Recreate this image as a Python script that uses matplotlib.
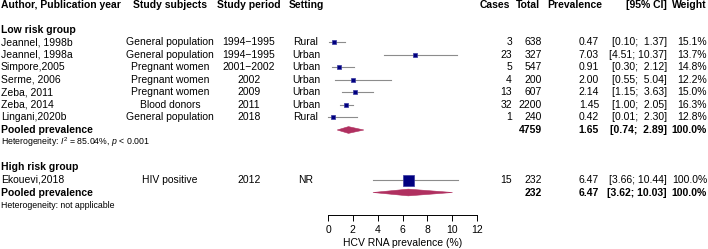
import matplotlib.pyplot as plt
from matplotlib.patches import Polygon
from matplotlib.transforms import blended_transform_factory
import numpy as np

plt.rcParams['font.family'] = ['Liberation Sans', 'DejaVu Sans']
plt.rcParams['mathtext.fontset'] = 'custom'
plt.rcParams['mathtext.rm'] = 'Liberation Sans'
plt.rcParams['mathtext.it'] = 'Liberation Sans:italic'

# low risk group studies
low_authors = ["Jeannel, 1998b", "Jeannel, 1998a", "Simpore,2005", "Serme, 2006",
               "Zeba, 2011", "Zeba, 2014", "Lingani,2020b"]
low_subjects = ["General population", "General population", "Pregnant women",
                "Pregnant women", "Pregnant women", "Blood donors", "General population"]
low_periods = ["1994\u22121995", "1994\u22121995", "2001\u22122002", "2002", "2009", "2011", "2018"]
low_settings = ["Rural", "Urban", "Urban", "Urban", "Urban", "Urban", "Rural"]
low_cases = [3, 23, 5, 4, 13, 32, 1]
low_totals = [638, 327, 547, 200, 607, 2200, 240]
low_prev = [0.47, 7.03, 0.91, 2.00, 2.14, 1.45, 0.42]
low_lo = [0.10, 4.51, 0.30, 0.55, 1.15, 1.00, 0.01]
low_hi = [1.37, 10.37, 2.12, 5.04, 3.63, 2.05, 2.30]
low_weights = [15.1, 13.7, 14.8, 12.2, 15.0, 16.3, 12.8]
low_pooled = (4759, 1.65, 0.74, 2.89)
low_het = "Heterogeneity: $I^2$ = 85.04%, $p$ < 0.001"

# high risk group
high_authors = ["Ekouevi,2018"]
high_subjects = ["HIV positive"]
high_periods = ["2012"]
high_settings = ["NR"]
high_cases = [15]
high_totals = [232]
high_prev = [6.47]
high_lo = [3.66]
high_hi = [10.44]
high_weights = [100.0]
high_pooled = (232, 6.47, 3.62, 10.03)
high_het = "Heterogeneity: not applicable"

xticks = [0, 2, 4, 6, 8, 10, 12]

W, H = 708, 249
fig = plt.figure(figsize=(W / 100, H / 100), dpi=100)
ax = fig.add_axes([328 / W, (H - 215) / H, 149 / W, 215 / H])
ax.set_xlim(0, 12)
ax.set_ylim(16.8, -0.4)
for s in ['top', 'left', 'right']:
    ax.spines[s].set_visible(False)
ax.spines['bottom'].set_linewidth(0.7)
ax.set_yticks([])
ax.set_xticks(xticks)
ax.tick_params(axis='x', length=4, width=0.7, labelsize=7.5, pad=3)
ax.set_xlabel('HCV RNA prevalence (%)', fontsize=7.5, labelpad=2.5)
ax.patch.set_alpha(0)

tr = blended_transform_factory(fig.transFigure, ax.transData)
fs = 7.5


def txt(xpx, y, s, ha='left', bold=False, size=fs):
    ax.text(xpx / W, y, s, transform=tr, ha=ha, va='center', fontsize=size,
            fontweight='bold' if bold else 'normal', clip_on=False)


def ci_str(lo, hi):
    s_lo = f"{lo:.2f}"
    s_hi = f"{hi:.2f}"
    pad = "  " if len(s_hi) < 5 else " "
    return f"[{s_lo};{pad}{s_hi}]"


# headers
txt(1, 0, "Author, Publication year", bold=True)
txt(170, 0, "Study subjects", ha='center', bold=True)
txt(249, 0, "Study period", ha='center', bold=True)
txt(306, 0, "Setting", ha='center', bold=True)
txt(510, 0, "Cases", ha='right', bold=True)
txt(540, 0, "Total", ha='right', bold=True)
txt(602, 0, "Prevalence", ha='right', bold=True)
txt(667, 0, "[95% CI]", ha='right', bold=True)
txt(707, 0, "Weight", ha='right', bold=True)


def draw_group(start, title, authors, subjects, periods, settings, cases, totals,
               prev, lo, hi, weights, pooled, het):
    txt(1, start, title, bold=True)
    for i in range(len(authors)):
        y = start + 1 + i
        txt(1, y, authors[i])
        txt(170, y, subjects[i], ha='center')
        txt(249, y, periods[i], ha='center')
        txt(306, y, settings[i], ha='center')
        txt(512, y, str(cases[i]), ha='right')
        txt(542, y, str(totals[i]), ha='right')
        txt(599, y, f"{prev[i]:.2f}", ha='right')
        txt(667, y, ci_str(lo[i], hi[i]), ha='right')
        txt(707, y, f"{weights[i]:.1f}%", ha='right')
        ax.plot([lo[i], hi[i]], [y, y], color='#8c8c8c', lw=0.8, zorder=1,
                clip_on=False)
        side_px = 11 * np.sqrt(weights[i] / 100)
        ax.scatter([prev[i]], [y], marker='s', s=(side_px * 0.72) ** 2,
                   facecolor='#000080', edgecolor='#3a3aa0', linewidth=0.5,
                   zorder=2, clip_on=False)
    yp = start + 1 + len(authors)
    tot, est, plo, phi = pooled
    txt(1, yp, "Pooled prevalence", bold=True)
    txt(542, yp, str(tot), ha='right', bold=True)
    txt(599, yp, f"{est:.2f}", ha='right', bold=True)
    txt(667, yp, ci_str(plo, phi), ha='right', bold=True)
    txt(707, yp, "100.0%", ha='right', bold=True)
    hh = 0.27
    ax.add_patch(Polygon([[plo, yp], [est, yp - hh], [phi, yp], [est, yp + hh]],
                         closed=True, facecolor='#b03060', edgecolor='#b03060',
                         lw=0.4, zorder=2, clip_on=False))
    txt(1, yp + 1, het, size=6.3)


draw_group(2, "Low risk group", low_authors, low_subjects, low_periods, low_settings,
           low_cases, low_totals, low_prev, low_lo, low_hi, low_weights,
           low_pooled, low_het)
draw_group(13, "High risk group", high_authors, high_subjects, high_periods,
           high_settings, high_cases, high_totals, high_prev, high_lo, high_hi,
           high_weights, high_pooled, high_het)

fig.savefig('out.png', dpi=100)
